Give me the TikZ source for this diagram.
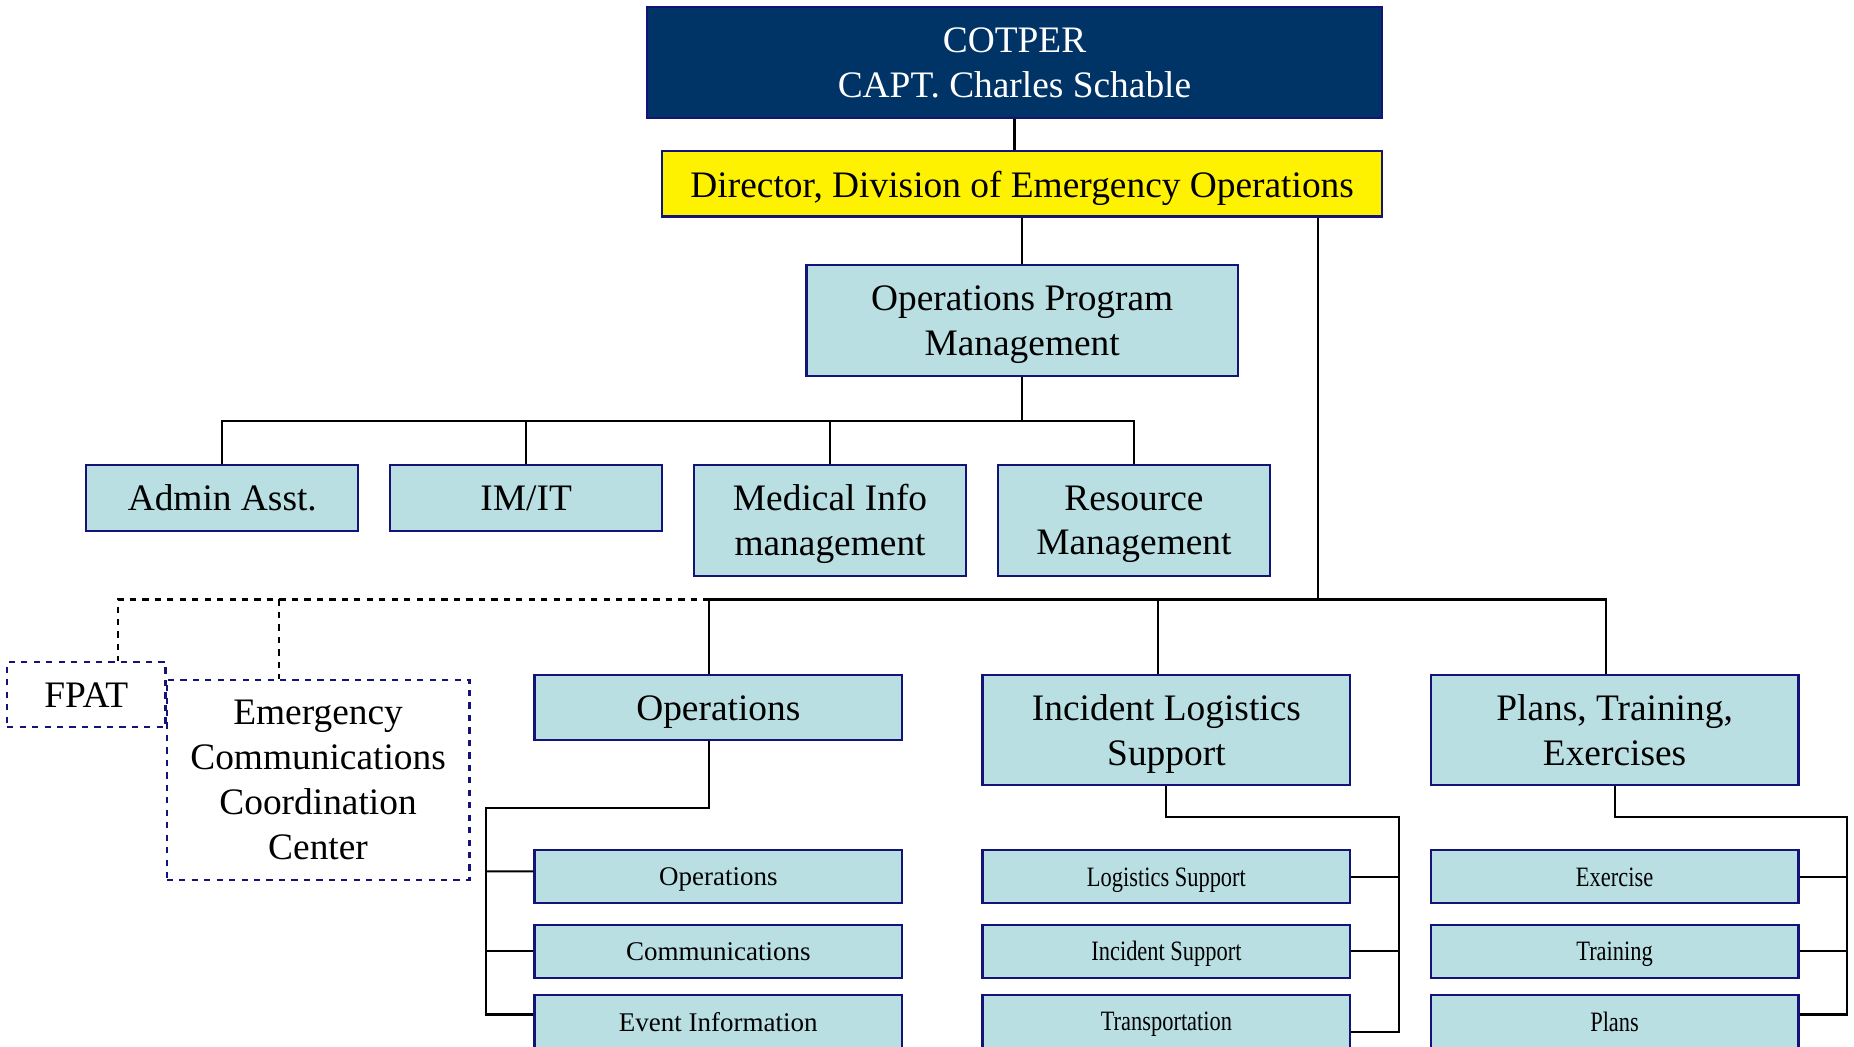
\documentclass[tikz,border=0pt]{standalone}
\usepackage{fontspec}
\setmainfont{Liberation Serif}
\newfontfamily\narrowserif[FakeStretch=0.8]{Liberation Serif}
\usepackage{tikz}
\usetikzlibrary{calc}
\usetikzlibrary{positioning}

\definecolor{cotperblue}{RGB}{0,51,102}
\definecolor{unitfill}{RGB}{185,223,227}
\definecolor{unitedge}{RGB}{20,20,120}

\tikzset{
  unit/.style={draw=unitedge,line width=1.1pt,fill=unitfill,align=center,inner sep=0pt,
    text depth=0pt,font=\fontsize{18}{21.6}\selectfont},
  subunit/.style={unit,minimum width=6.22cm,minimum height=0.9cm,font=\fontsize{13}{15}\selectfont},
  narrowunit/.style={subunit,font=\fontsize{13.5}{15}\narrowserif},
  dashunit/.style={draw=unitedge,line width=1.1pt,dashed,align=center,inner sep=0pt,
    text depth=0pt,font=\fontsize{18}{21.6}\selectfont},
  link/.style={line width=1pt}
}

\begin{document}
\begin{tikzpicture}[x=0.02cm,y=-0.02cm]
  \useasboundingbox (0,0) rectangle (1568,885);
  \clip (0,0) rectangle (1568,885);

  % top of the chart
  \node[unit,fill=cotperblue,text=white,minimum width=12.44cm,minimum height=1.88cm] (cotper) at (858,53) {COTPER\\CAPT. Charles Schable};
  \node[unit,fill=yellow,minimum width=12.18cm,minimum height=1.1cm] (director) at (864.5,155.5) {Director, Division of Emergency Operations};
  \node[unit,minimum width=7.3cm,minimum height=1.88cm] (opm) at (864.5,271) {Operations Program\\Management};

  % program management staff
  \node[unit,minimum width=4.6cm,minimum height=1.12cm] (admin) at (188,421) {Admin Asst.};
  \node[unit,minimum width=4.6cm,minimum height=1.12cm] (imit) at (445,421) {IM/IT};
  \node[unit,minimum width=4.6cm,minimum height=1.88cm] (medinfo) at (702,440) {Medical Info\\management};
  \node[unit,minimum width=4.6cm,minimum height=1.88cm] (resmgmt) at (959,440) {Resource\\Management};

  % dashed units
  \node[dashunit,minimum width=2.68cm,minimum height=1.1cm] (fpat) at (73,587.5) {FPAT};
  \node[dashunit,minimum width=5.12cm,minimum height=3.38cm] (eccc) at (269,659.5) {Emergency\\Communications\\Coordination\\Center};

  % branches
  \node[unit,minimum width=6.22cm,minimum height=1.1cm] (ops) at (607.5,598.5) {Operations};
  \node[unit,minimum width=6.22cm,minimum height=1.86cm] (ils) at (986.5,617.5) {Incident Logistics\\Support};
  \node[unit,minimum width=6.22cm,minimum height=1.86cm] (pte) at (1365.5,617.5) {Plans, Training,\\Exercises};

  \node[subunit] (opsA) at (607.5,741.5) {Operations};
  \node[subunit] (opsB) at (607.5,804.5) {Communications};
  \node[subunit] (opsC) at (607.5,864) {Event Information};
  \node[narrowunit] (ilsA) at (986.5,741.5) {Logistics Support};
  \node[narrowunit] (ilsB) at (986.5,804.5) {Incident Support};
  \node[narrowunit] (ilsC) at (986.5,864) {Transportation};
  \node[narrowunit] (pteA) at (1365.5,741.5) {Exercise};
  \node[narrowunit] (pteB) at (1365.5,804.5) {Training};
  \node[narrowunit] (pteC) at (1365.5,864) {Plans};

  \coordinate (hub) at (1115,507);
  \coordinate (ecccdrop) at (236,507);
  \coordinate (opsrail) at (411,683);
  \coordinate (ilsrail) at (1183,691);
  \coordinate (pterail) at (1562,691);

  % connectors
  \draw[link] (cotper.south) -- (cotper.south |- director.north);
  \draw[link] (director.south) -- (opm.north);
  \foreach \n in {admin,imit,medinfo,resmgmt}
    \draw[link] (opm.south) -- +(0,37) -| (\n.north);
  \draw[link] (director.south -| hub) -- (hub);
  \draw[link] ([xshift=-0.15cm]ops.north) |- ([xshift=-0.15cm]pte.north |- hub) -- ([xshift=-0.15cm]pte.north);
  \draw[link] ([xshift=-0.15cm]ils.north) -- ([xshift=-0.15cm]ils.north |- hub);
  \draw[link,dashed] ([xshift=-0.15cm]ops.north |- hub) -| ([xshift=0.54cm]fpat.north);
  \draw[link,dashed] (ecccdrop) -- (ecccdrop |- eccc.north);

  \draw[link] ([xshift=-0.15cm]ops.south) |- (opsrail) |- ([yshift=0.12cm]opsC.west);
  \draw[link] (opsrail |- opsA.west) ++(0,-4.5) -- ([yshift=0.09cm]opsA.west);
  \draw[link] (opsrail |- opsB.west) -- (opsB.west);
  \draw[link] (ils.south) |- (ilsrail) |- ([yshift=-0.18cm]ilsC.east);
  \foreach \n in {ilsA,ilsB}
    \draw[link] (ilsrail |- \n.east) -- (\n.east);
  \draw[link] (pte.south) |- (pterail) |- ([yshift=0.12cm]pteC.east);
  \foreach \n in {pteA,pteB}
    \draw[link] (pterail |- \n.east) -- (\n.east);
\end{tikzpicture}
\end{document}
